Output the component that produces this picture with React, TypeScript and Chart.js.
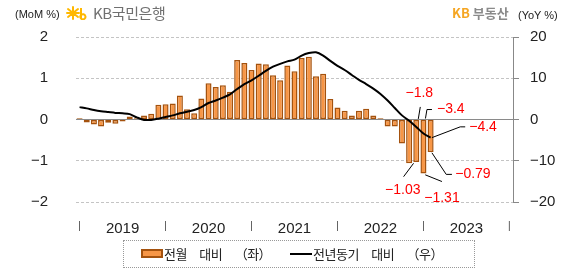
import React, { useEffect, useRef } from 'react';
import { Chart, registerables } from 'chart.js';

Chart.register(...registerables);

// ---------- data ----------
const YEARS = ['2019', '2020', '2021', '2022', '2023'];
const MONTHS = ['01', '02', '03', '04', '05', '06', '07', '08', '09', '10', '11', '12'];
const categories: string[] = [];
YEARS.forEach((y) => MONTHS.forEach((m) => categories.push(`${y}-${m}`)));
categories.push('2024-01');

// 전월 대비 (MoM %, left axis) Jan 2019 .. Feb 2023
const momValues = [
  0.03, -0.07, -0.12, -0.17, -0.08, -0.1, -0.05, 0.07, 0.03, 0.1, 0.14, 0.36,
  0.37, 0.39, 0.58, 0.25, 0.15, 0.51, 0.88, 0.79, 0.83, 0.67, 1.44, 1.37,
  1.2, 1.36, 1.34, 1.07, 0.95, 1.31, 1.17, 1.49, 1.52, 1.05, 1.11, 0.5,
  0.29, 0.21, 0.1, 0.21, 0.26, 0.1, 0.03, -0.17, -0.17, -0.58, -1.06, -1.03,
  -1.31, -0.79,
];

// 전년동기 대비 (YoY %, right axis)
const yoyValues = [
  3.0, 2.7, 2.3, 2.0, 1.8, 1.6, 1.5, 1.3, 0.5, -0.1, -0.1, 0.2,
  0.6, 1.0, 1.5, 1.9, 2.3, 3.0, 4.0, 4.6, 5.3, 6.1, 7.4, 8.6,
  9.5, 10.6, 11.8, 12.8, 13.5, 14.1, 14.5, 15.5, 16.1, 16.3, 15.5, 14.2,
  13.0, 12.0, 10.8, 9.6, 8.6, 7.5, 6.2, 4.6, 2.8, 1.0, -0.3, -1.8,
  -3.4, -4.4,
];

const leftTickRange = [-2, 2, 1]; // min, max, step
const rightTickRange = [-20, 20, 10];

const MOM_LABEL = '전월 대비 （좌）';
const YOY_LABEL = '전년동기 대비 （우）';

const FONT_NUM = '"Liberation Sans", Arial, sans-serif';
const FONT_KR = '"Noto Sans CJK KR", "Noto Sans", sans-serif';

// callouts: dataset index, data index, decimals, leader offsets, label offset, align
const CALLOUTS = [
  { ds: 1, i: 47, dec: 1, leader: [[2, -8], [4, -20]], label: [3, -34], align: 'center' },
  { ds: 1, i: 48, dec: 1, leader: [[2, -15], [3.5, -24], [8.5, -24]], label: [13.5, -24], align: 'left' },
  { ds: 1, i: 49, dec: 1, leader: [[1.3, 0], [29.6, -10.8], [34.6, -10.8]], label: [38.6, -11], align: 'left' },
  { ds: 0, i: 47, dec: 2, leader: [[-2.7, 1.3], [-12.7, 14.7]], label: [-13.5, 28], align: 'center' },
  { ds: 0, i: 48, dec: 2, leader: [[1.8, 1.3], [18.5, 8]], label: [18.5, 25], align: 'center' },
  { ds: 0, i: 49, dec: 2, leader: [[1.3, 0.7], [15.6, 22.3], [21.3, 22.3]], label: [24.6, 22.3], align: 'left' },
];

const fmt = (v: number, d: number) => v.toFixed(d).replace('-', '\u2212');

const calloutPlugin = {
  id: 'callouts',
  afterDatasetsDraw(chart: any) {
    const ctx = chart.ctx;
    CALLOUTS.forEach((c) => {
      const meta = chart.getDatasetMeta(c.ds);
      const el = meta.data[c.i];
      if (!el) return;
      const { x, y } = el.getProps(['x', 'y'], true);
      const value = chart.data.datasets[c.ds].data[c.i] as number;
      ctx.save();
      ctx.strokeStyle = '#000';
      ctx.lineWidth = 1;
      ctx.beginPath();
      c.leader.forEach(([dx, dy], k) => {
        if (k === 0) ctx.moveTo(x + dx, y + dy);
        else ctx.lineTo(x + dx, y + dy);
      });
      ctx.stroke();
      ctx.fillStyle = '#ff0000';
      ctx.font = `14px ${FONT_NUM}`;
      ctx.textAlign = c.align;
      ctx.textBaseline = 'middle';
      ctx.fillText(fmt(value, c.dec), x + c.label[0], y + c.label[1]);
      ctx.restore();
    });
  },
};

const legendText = {
  position: 'absolute' as const,
  top: 245,
  fontFamily: FONT_KR,
  fontSize: 13,
  color: '#222',
  lineHeight: '17px',
  letterSpacing: -0.5,
  wordSpacing: 10,
  whiteSpace: 'pre' as const,
};

export default function App() {
  const ref = useRef<HTMLCanvasElement>(null);

  useEffect(() => {
    if (!ref.current) return;
    const chart = new Chart(ref.current, {
      type: 'bar',
      data: {
        labels: categories,
        datasets: [
          {
            type: 'bar',
            label: MOM_LABEL,
            data: momValues,
            yAxisID: 'y',
            backgroundColor: '#F79646',
            borderColor: '#A4520E',
            borderWidth: 1.5,
            borderSkipped: false,
            barPercentage: 0.84,
            categoryPercentage: 1,
            order: 1,
          },
          {
            type: 'line',
            label: YOY_LABEL,
            data: yoyValues,
            yAxisID: 'y2',
            borderColor: '#000',
            borderWidth: 2,
            pointRadius: 0,
            tension: 0.3,
            order: 0,
          },
        ],
      },
      options: {
        responsive: false,
        animation: false,
        devicePixelRatio: 1,
        layout: { padding: { left: 0, right: 0, top: 35, bottom: 0 } },
        plugins: { legend: { display: false }, tooltip: { enabled: false } },
        scales: {
          x: {
            type: 'category',
            offset: true,
            grid: { display: false },
            border: { display: false },
            afterFit: (s: any) => { s.height = 78; },
            ticks: {
              autoSkip: false,
              maxRotation: 0,
              minRotation: 0,
              padding: 10,
              color: (c: any) => (c.index % 12 === 0 ? '#444' : '#222'),
              font: (c: any) =>
                c.index % 12 === 0
                  ? { family: FONT_NUM, size: 10 }
                  : { family: FONT_NUM, size: 15 },
              callback: (_v: any, idx: number) =>
                idx % 12 === 0 ? '|' : idx % 12 === 6 ? YEARS[Math.floor(idx / 12)] ?? '' : '',
            },
          },
          y: {
            position: 'left',
            min: leftTickRange[0],
            max: leftTickRange[1],
            afterFit: (s: any) => { s.width = 76; },
            ticks: {
              stepSize: leftTickRange[2],
              padding: 28,
              color: '#222',
              font: { family: FONT_NUM, size: 15 },
              callback: (v: any) => String(v).replace('-', '\u2212'),
            },
            grid: {
              drawTicks: false,
              color: (c: any) => (c.tick && c.tick.value === 0 ? '#8a8a8a' : '#c4c4c4'),
              lineWidth: 1,
            },
            border: {
              display: false,
              dash: (c: any) => (c.tick && c.tick.value === 0 ? [] : [3, 2]),
            },
          },
          y2: {
            position: 'right',
            min: rightTickRange[0],
            max: rightTickRange[1],
            afterFit: (s: any) => { s.width = 74; },
            ticks: {
              stepSize: rightTickRange[2],
              padding: 11,
              color: '#222',
              font: { family: FONT_NUM, size: 15 },
              callback: (v: any) => String(v).replace('-', '\u2212'),
            },
            grid: {
              drawOnChartArea: false,
              drawTicks: true,
              tickLength: 6,
              tickColor: '#888',
            },
            border: { display: true, color: '#888', width: 1 },
          },
        },
      },
      plugins: [calloutPlugin],
    } as any);
    return () => chart.destroy();
  }, []);

  return (
    <div style={{ position: 'absolute', left: 0, top: 0, width: 587, height: 280, background: '#fff', overflow: 'hidden' }}>
      <canvas ref={ref} width={587} height={280} style={{ position: 'absolute', left: 0, top: 0 }} />
      <span style={{ position: 'absolute', left: 15, top: 7, fontFamily: FONT_NUM, fontSize: 11, color: '#222', lineHeight: '14px' }}>(MoM %)</span>
      <svg style={{ position: 'absolute', left: 66, top: 6 }} width="24" height="14" viewBox="0 0 24 14">
        <path d="M2 3 L12 11 M12 3 L2 11 M7 1 L7 13 M1 7 L13 7" stroke="#FFB800" strokeWidth="2" strokeLinecap="round" />
        <path d="M15 2 L15 12 M15 9 A2.6 2.6 0 1 0 15.1 8.9" stroke="#FFB800" strokeWidth="2" fill="none" />
      </svg>
      <span style={{ position: 'absolute', left: 93, top: 3, fontFamily: FONT_KR, fontSize: 15, color: '#707070', lineHeight: '19px', letterSpacing: -0.4 }}>KB국민은행</span>
      <span style={{ position: 'absolute', left: 452, top: 4, fontFamily: FONT_KR, fontSize: 13, fontWeight: 700, lineHeight: '18px' }}>
        <span style={{ color: '#F5A623' }}>KB</span>
        <span style={{ color: '#8a8a8a' }}> 부동산</span>
      </span>
      <span style={{ position: 'absolute', left: 518, top: 8, fontFamily: FONT_NUM, fontSize: 11, color: '#222', lineHeight: '14px' }}>(YoY %)</span>
      <div style={{ position: 'absolute', left: 123, top: 240, width: 352, height: 28, border: '1px dotted #999', boxSizing: 'border-box' }} />
      <div style={{ position: 'absolute', left: 141, top: 249, width: 22, height: 9, background: '#F79646', border: '2px solid #A4520E', boxSizing: 'border-box' }} />
      <span style={{ ...legendText, left: 164 }}>{MOM_LABEL}</span>
      <div style={{ position: 'absolute', left: 290, top: 253, width: 22, height: 2, background: '#000' }} />
      <span style={{ ...legendText, left: 313 }}>{YOY_LABEL}</span>
    </div>
  );
}
